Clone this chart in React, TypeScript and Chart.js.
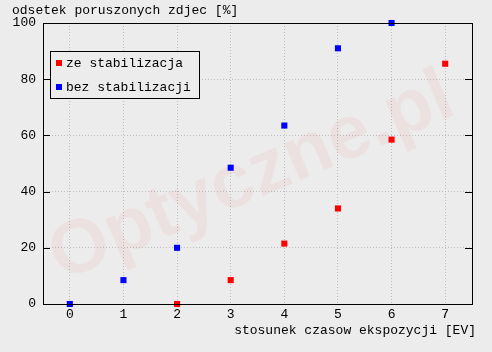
import React, { useEffect, useRef } from "react";
import { Chart, registerables } from "chart.js";

Chart.register(...registerables);

const seriesNames = ["ze stabilizacja", "bez stabilizacji"];
const seriesColors = ["#ff0000", "#0000ff"];
const redX = [2, 3, 4, 5, 6, 7];
const redY = [0, 8.5, 21.5, 34, 58.5, 85.5];
const blueX = [0, 1, 2, 3, 4, 5, 6];
const blueY = [0, 8.5, 20, 48.5, 63.5, 91, 100];
const xTicks = [0, 1, 2, 3, 4, 5, 6, 7];
const yTicks = [0, 20, 40, 60, 80, 100];
const yTitle = "odsetek poruszonych zdjec [%]";
const xTitle = "stosunek czasow ekspozycji [EV]";
const watermark = "Optyczne.pl";

const FONT = "'Liberation Mono', 'DejaVu Sans Mono', monospace";
const BG = "#ececec";

export default function App() {
  const ref = useRef<HTMLCanvasElement | null>(null);
  useEffect(() => {
    const canvas = ref.current!;
    const framePlugin = {
      id: "frame",
      beforeDraw(chart: any) {
        const { ctx, width, height } = chart;
        ctx.save();
        ctx.fillStyle = BG;
        ctx.fillRect(0, 0, width, height);
        ctx.restore();
      },
      beforeDatasetsDraw(chart: any) {
        const { ctx, chartArea } = chart;
        ctx.save();
        ctx.beginPath();
        ctx.rect(chartArea.left, chartArea.top, chartArea.right - chartArea.left, chartArea.bottom - chartArea.top);
        ctx.clip();
        ctx.translate(252, 178);
        ctx.rotate(-0.4);
        ctx.font = "bold 76px 'Liberation Sans', Arial, sans-serif";
        ctx.textAlign = "center";
        ctx.textBaseline = "middle";
        ctx.fillStyle = "rgba(255,0,0,0.045)";
        ctx.fillText(watermark, 0, 0);
        ctx.restore();
      },
      afterDatasetsDraw(chart: any) {
        const { ctx, chartArea } = chart;
        const { left, right, top, bottom } = chartArea;
        const ys = chart.scales.y;
        ctx.save();
        ctx.strokeStyle = "#000";
        ctx.lineWidth = 1;
        ctx.strokeRect(left + 0.5, top + 0.5, right - left, bottom - top);
        ctx.beginPath();
        for (const v of yTicks) {
          const py = Math.round(ys.getPixelForValue(v)) + 0.5;
          ctx.moveTo(left, py);
          ctx.lineTo(left + 7, py);
          ctx.moveTo(right - 7, py);
          ctx.lineTo(right, py);
        }
        ctx.stroke();
        // titles
        ctx.fillStyle = "#000";
        ctx.font = "13px " + FONT;
        ctx.textBaseline = "middle";
        ctx.textAlign = "left";
        ctx.fillText(yTitle, 12, 11);
        ctx.textAlign = "right";
        ctx.fillText(xTitle, 476, 331);
        // legend
        const lx = 50, ly = 51, lw = 149, lh = 47;
        ctx.fillStyle = BG;
        ctx.fillRect(lx, ly, lw, lh);
        ctx.strokeRect(lx + 0.5, ly + 0.5, lw, lh);
        ctx.textAlign = "left";
        seriesNames.forEach((name, i) => {
          const cy = 63 + i * 24;
          ctx.fillStyle = seriesColors[i];
          ctx.fillRect(56, cy - 3, 6, 6);
          ctx.fillStyle = "#000";
          ctx.fillText(name, 66, cy + 1);
        });
        ctx.restore();
      },
    };

    const chart = new Chart(canvas, {
      type: "scatter",
      data: {
        datasets: [
          {
            label: seriesNames[0],
            data: redX.map((x, i) => ({ x, y: redY[i] })),
            backgroundColor: seriesColors[0],
            borderWidth: 0,
            pointStyle: "rect",
            pointRadius: 4.3,
            clip: false,
          },
          {
            label: seriesNames[1],
            data: blueX.map((x, i) => ({ x, y: blueY[i] })),
            backgroundColor: seriesColors[1],
            borderWidth: 0,
            pointStyle: "rect",
            pointRadius: 4.3,
            clip: false,
          },
        ] as any,
      },
      options: {
        animation: false,
        responsive: false,
        events: [],
        layout: { padding: { left: 0, top: 23, right: 20, bottom: 0 } },
        plugins: { legend: { display: false }, tooltip: { enabled: false } },
        scales: {
          x: {
            type: "linear",
            min: -0.5,
            max: 7.5,
            afterBuildTicks: (s: any) => {
              s.ticks = xTicks.map((v) => ({ value: v }));
            },
            afterFit: (s: any) => {
              s.height = 48;
            },
            border: { display: false, dash: [1, 2] },
            grid: { color: "#bdbdbd", drawTicks: false, lineWidth: 1 },
            ticks: { color: "#000", font: { family: FONT, size: 13 }, padding: 3, maxRotation: 0 },
          },
          y: {
            type: "linear",
            min: 0,
            max: 100,
            afterBuildTicks: (s: any) => {
              s.ticks = yTicks.map((v) => ({ value: v }));
            },
            afterFit: (s: any) => {
              s.width = 43;
            },
            border: { display: false, dash: [1, 2] },
            grid: { color: "#bdbdbd", drawTicks: false, lineWidth: 1 },
            ticks: { color: "#000", font: { family: FONT, size: 13 }, padding: 7 },
          },
        },
      } as any,
      plugins: [framePlugin],
    });
    return () => chart.destroy();
  }, []);
  return (
    <div style={{ position: "absolute", left: 0, top: 0, width: 492, height: 352, background: BG }}>
      <canvas ref={ref} width={492} height={352} style={{ display: "block" }} />
    </div>
  );
}
